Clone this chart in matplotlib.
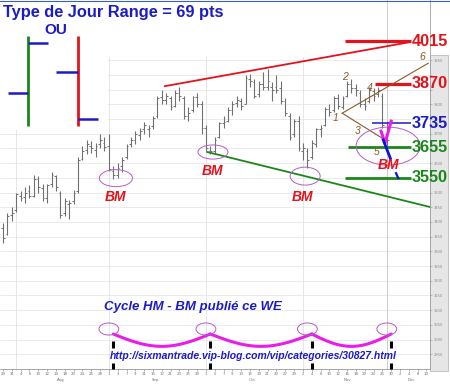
import numpy as np
import pandas as pd
import matplotlib
matplotlib.use('Agg')
import matplotlib.pyplot as plt
from matplotlib.patches import Ellipse, Rectangle
from matplotlib.lines import Line2D
import matplotlib.transforms as mtransforms

# ---------------- data ----------------
dates = pd.bdate_range('2009-07-29', '2009-12-10')
bar_dates = pd.bdate_range('2009-07-29', '2009-11-27')

opens = [3380, 3360, 3425, 3440, 3490, 3485, 3505, 3490, 3545, 3515, 3480, 3530, 3555,
         3500, 3430, 3460, 3470, 3505, 3615, 3645, 3660, 3645, 3665, 3670,
         3660, 3575, 3560, 3590, 3620, 3665, 3680, 3695, 3715, 3715, 3725, 3760, 3825,
         3815, 3820, 3795, 3840, 3820, 3760, 3780, 3825, 3800,
         3720, 3640, 3640, 3690, 3735, 3745, 3780, 3805, 3810, 3800, 3885, 3875, 3835,
         3870, 3860, 3860, 3860, 3855, 3810, 3760, 3700, 3745,
         3640, 3640, 3620, 3665, 3715, 3730, 3785, 3780, 3820, 3790, 3830, 3870, 3855,
         3840, 3800, 3810, 3845, 3835, 3830, 3700]
highs = [3395, 3430, 3450, 3500, 3505, 3520, 3525, 3560, 3555, 3530, 3530, 3570, 3560,
         3505, 3480, 3475, 3510, 3620, 3660, 3680, 3675, 3670, 3700, 3690,
         3700, 3590, 3600, 3620, 3665, 3690, 3710, 3720, 3740, 3730, 3760, 3830, 3850,
         3840, 3830, 3850, 3860, 3830, 3790, 3830, 3840, 3810,
         3730, 3660, 3690, 3740, 3760, 3790, 3810, 3830, 3820, 3900, 3905, 3885, 3880,
         3910, 3920, 3875, 3900, 3880, 3820, 3770, 3750, 3760,
         3670, 3650, 3680, 3720, 3730, 3790, 3800, 3830, 3835, 3830, 3880, 3885, 3870,
         3850, 3820, 3860, 3855, 3860, 3840, 3740]
lows = [3330, 3355, 3405, 3435, 3470, 3465, 3480, 3485, 3500, 3470, 3465, 3520, 3505,
        3415, 3420, 3410, 3460, 3500, 3610, 3630, 3635, 3620, 3650, 3640,
        3575, 3545, 3550, 3570, 3615, 3655, 3665, 3680, 3700, 3690, 3715, 3755, 3800,
        3800, 3780, 3790, 3810, 3750, 3745, 3775, 3790, 3700,
        3640, 3630, 3630, 3685, 3720, 3740, 3765, 3790, 3780, 3800, 3860, 3820, 3825,
        3850, 3850, 3810, 3840, 3800, 3760, 3680, 3690, 3640,
        3610, 3585, 3615, 3655, 3690, 3725, 3760, 3775, 3785, 3785, 3825, 3840, 3830,
        3790, 3780, 3805, 3810, 3825, 3720, 3640]
closes = [3345, 3420, 3430, 3495, 3480, 3500, 3490, 3545, 3520, 3480, 3525, 3560, 3520,
          3425, 3470, 3465, 3500, 3610, 3640, 3665, 3650, 3660, 3680, 3655,
          3580, 3560, 3585, 3610, 3660, 3680, 3700, 3710, 3730, 3720, 3755, 3820, 3815,
          3830, 3790, 3840, 3830, 3760, 3770, 3825, 3800, 3720,
          3650, 3640, 3680, 3735, 3740, 3780, 3800, 3815, 3795, 3890, 3880, 3830, 3870,
          3860, 3880, 3850, 3850, 3810, 3770, 3690, 3745, 3650,
          3650, 3610, 3670, 3715, 3720, 3785, 3775, 3820, 3795, 3820, 3870, 3855, 3850,
          3800, 3795, 3850, 3830, 3850, 3730, 3680]

levels = [4015, 3870, 3735, 3655, 3550]
level_labels = ['4015', '3870', '3735', '3655', '3550']
cycle_dates = ['2009-09-02', '2009-10-02', '2009-11-04', '2009-11-30']
months = ['Aug', 'Sep', 'Oct', 'Nov', 'Dec']
wave_labels = ['1', '2', '3', '4', '5', '6']
price_ticks = list(range(2950, 3951, 50))

# ---------------- style ----------------
RED = '#e3121b'
GREEN = '#1b871b'
BLUE = '#1c1cc4'
BROWN = '#8b5a2b'
MAG = '#e81ee8'
VIOLET = '#b45cc8'
BARC = '#707070'

W, H = 450, 385
fig = plt.figure(figsize=(W / 100, H / 100), dpi=100)
fig.patch.set_facecolor('white')
PX = mtransforms.Affine2D().scale(1 / W, -1 / H).translate(0, 1) + fig.transFigure

ax = fig.add_axes([0, 16 / H, 430 / W, 369 / H])
ax.set_xlim(-0.68, 96.8)
ax.set_ylim(2900, 4155)

n = len(bar_dates)
x = np.arange(n)
def di(d):
    return dates.get_loc(pd.Timestamp(d))

# grid
for p in price_ticks:
    ax.axhline(p, color='#e8e8e8', lw=0.6, zorder=0)
for d in ['2009-08-03', '2009-09-01', '2009-10-01', '2009-11-02']:
    ax.plot([di(d)] * 2, [2900, 3960], color='#e2e2e2', lw=0.6, zorder=0)
ax.axvline(di('2009-11-27'), color='#cccccc', lw=0.7, zorder=0)

# white panel behind schematic
fig.patches.append(Rectangle((0, 0), 108, 130, transform=PX, facecolor='white',
                             edgecolor='none', zorder=0.5))

# OHLC bars
ax.vlines(x, lows, highs, color=BARC, lw=0.8, zorder=2)
ax.hlines(opens, x - 0.4, x, color=BARC, lw=0.7, zorder=2)
ax.hlines(closes, x, x + 0.4, color=BARC, lw=0.7, zorder=2)

# axes styling
for s in ['top', 'left']:
    ax.spines[s].set_visible(False)
ax.spines['right'].set_color('#a0a0a0')
ax.spines['right'].set_linewidth(0.6)
ax.spines['bottom'].set_color('#9a9a9a')
ax.spines['bottom'].set_linewidth(0.6)
ax.yaxis.tick_right()
ax.set_yticks(price_ticks)
# labels hidden where the level captions cover the scale
covered = {3550, 3650, 3750, 3850, 3900}
ax.set_yticklabels(['' if v in covered else str(v) for v in price_ticks])
ax.tick_params(axis='y', labelsize=2.6, colors='#8a8a8a', length=1.5, pad=1, width=0.4)
ax.set_xticks(np.arange(0, len(dates), 2))
ax.set_xticklabels([str(d.day) for d in dates[::2]])
ax.set_xticks(np.arange(len(dates)), minor=True)
ax.tick_params(axis='x', which='major', labelsize=2.8, colors='#707070', length=1.5,
               pad=1, width=0.4)
ax.tick_params(axis='x', which='minor', length=1, width=0.3, colors='#909090')
for lbl in ax.get_xticklabels():
    lbl.set_color('#707070')
tb = mtransforms.blended_transform_factory(ax.transData, ax.transAxes)
for m in months:
    mi = [i for i, d in enumerate(dates) if d.strftime('%b') == m]
    ax.text(np.mean(mi), -0.031, m, transform=tb, ha='center', va='center',
            fontsize=2.8, color='#707070')

# right gray strip
fig.patches.append(Rectangle((430, 55), 18, 316, transform=PX, facecolor='#e6e6e6',
                             edgecolor='#b0b0b0', lw=0.5, zorder=-1))
fig.add_artist(Line2D([0, W], [0.5, 0.5], transform=PX, color='#3a5fcd', lw=0.8))

# ---------------- annotations (data coords) ----------------
FB = 'Liberation Sans'
# red upper trendline
ax.plot([36.7, 92.3], [3862, 4012], color=RED, lw=1.3, zorder=3)
# green lower trendline
ax.plot([46.3, 96.8], [3638, 3451], color=GREEN, lw=1.3, zorder=3)
# level lines
starts = [77.6, 84.4, 83.7, 78.2, 77.6]
lcol = [RED, RED, BLUE, GREEN, GREEN]
lws = [2.3, 2.3, 1.1, 2.0, 2.0]
for lv, lab, st, c, lw in zip(levels, level_labels, starts, lcol, lws):
    ax.plot([st, 92.5], [lv, lv], color=c, lw=lw, zorder=3, solid_capstyle='butt')
    ax.text(92.6, lv, lab, color=c, fontsize=11.7, fontweight='bold', family=FB,
            ha='left', va='center', zorder=5)

# brown fan
ax.plot([76.9, 96.4], [3770, 3940], color=BROWN, lw=0.8, zorder=3)
ax.plot([76.9, 86.6], [3770, 3679], color=BROWN, lw=0.8, zorder=3)
wave_pos = [(75.5, 3753), (77.6, 3893), (80.3, 3709), (83.2, 3855), (84.8, 3638), (95.0, 3961)]
for lab, (wx, wy) in zip(wave_labels, wave_pos):
    ax.text(wx, wy, lab, color=BROWN, fontsize=7.5, style='italic', family=FB,
            ha='center', va='center', zorder=5)

# magenta V and blue projection
ax.plot([85.7, 86.6, 88.0], [3709, 3668, 3743], color=MAG, lw=2.2, zorder=4)
ax.plot([86.2, 87.8], [3679, 3617], color='#1010e0', lw=2.0, zorder=4)
ax.plot([89.1, 89.6], [3566, 3549], color='#1010e0', lw=1.6, zorder=4)

# BM ellipses and labels
ells = [(25.6, 3549, 7.5, 58), (47.6, 3638, 6.8, 48), (68.5, 3556, 6.8, 61),
        (87.3, 3658, 14.5, 129)]
for cx, cy, ew, eh in ells:
    ax.add_patch(Ellipse((cx, cy), ew, eh, facecolor='none', edgecolor=VIOLET, lw=0.7,
                         zorder=3))
bm_pos = [(25.6, 3485), (47.6, 3573), (68.0, 3485), (87.3, 3594)]
for bx, by in bm_pos:
    ax.text(bx, by, 'BM', color=RED, fontsize=10, fontweight='bold', style='italic',
            family=FB, ha='center', va='center', zorder=5)

# cycle curve
cyc = [di(d) for d in cycle_dates]
top, depth = 3019, 42
for a, b in zip(cyc[:-1], cyc[1:]):
    t = np.linspace(0, 1, 60)
    ax.plot(a + (b - a) * t, top - depth * np.sin(np.pi * t), color=MAG, lw=2.2,
            zorder=3, solid_capstyle='round')
for c in cyc:
    ax.add_patch(Ellipse((c - 1.0, 3036), 4.5, 41, facecolor='none', edgecolor=VIOLET,
                         lw=0.7, zorder=3))
    ax.plot([c, c], [2970, 2994], color='black', lw=2.2, zorder=3, solid_capstyle='butt')
    ax.plot([c, c], [2901, 2920], color='black', lw=2.2, zorder=3, solid_capstyle='butt',
            clip_on=False)

ax.text(23.0, 3111, 'Cycle HM - BM publié ce WE', color=BLUE, fontsize=9.5,
        fontweight='bold', style='italic', family=FB, ha='left', va='center', zorder=5)
ax.text(24.3, 2944, 'http://sixmantrade.vip-blog.com/vip/categories/30827.html',
        color=BLUE, fontsize=7.5, fontweight='bold', style='italic', family=FB,
        ha='left', va='center', zorder=5)

# ---------------- header & schematic (pixel layout) ----------------
fig.text(3 / W, 1 - 13 / H, 'Type de Jour Range = 69 pts', color=BLUE, fontsize=11.8,
         fontweight='bold', family=FB, ha='left', va='center')
fig.text(56 / W, 1 - 30 / H, 'OU', color=BLUE, fontsize=11, fontweight='bold',
         family=FB, ha='center', va='center')
for xs, ys, c, lw in [([28, 28], [36, 126], GREEN, 2.0), ([28, 48], [43, 43], BLUE, 1.8),
                      ([8, 28], [93, 93], BLUE, 1.8), ([78, 78], [36, 126], RED, 2.0),
                      ([56, 78], [72, 72], BLUE, 1.8), ([78, 98], [119, 119], BLUE, 1.8)]:
    fig.add_artist(Line2D(xs, ys, transform=PX, color=c, lw=lw, solid_capstyle='butt'))

fig.savefig('out.png', dpi=100)
